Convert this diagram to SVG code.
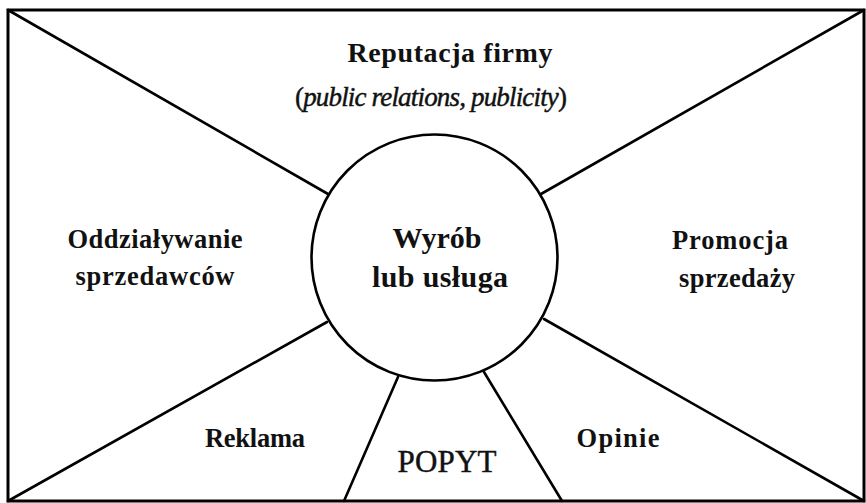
<svg xmlns="http://www.w3.org/2000/svg" width="866" height="503" viewBox="0 0 866 503">
  <style>
    .frame { fill: none; stroke: #000; stroke-width: 3; }
    .ray { fill: none; stroke: #000; stroke-width: 2.6; stroke-linecap: round; }
    .hub { fill: #fff; stroke: #000; stroke-width: 2.6; }
    .lbl { font-family: "Liberation Serif", "Times New Roman", serif; font-weight: bold; fill: #111; text-anchor: middle; }
    .it { font-style: italic; }
    .plain { font-weight: normal; stroke: #111; stroke-width: 0.45; }
  </style>

  <rect x="0" y="0" width="866" height="503" fill="#fff"/>

  <!-- outer frame -->
  <rect class="frame" x="8" y="10" width="856" height="491"/>

  <!-- connectors: corner diagonals and the two lines under the hub -->
  <g id="connectors">
    <line class="ray" x1="8" y1="10" x2="328" y2="194"/>
    <line class="ray" x1="864" y1="10" x2="541" y2="194"/>
    <line class="ray" x1="8" y1="501" x2="327" y2="322"/>
    <line class="ray" x1="864" y1="501" x2="544" y2="319"/>
    <line class="ray" x1="398" y1="377" x2="344" y2="501"/>
    <line class="ray" x1="484" y1="372" x2="562" y2="501"/>
  </g>

  <!-- central node -->
  <g id="hub">
    <circle class="hub" cx="434.5" cy="257.5" r="123"/>
    <text class="lbl" x="437" y="248" font-size="30">Wyrób</text>
    <text class="lbl" x="440" y="287" font-size="30" textLength="136" lengthAdjust="spacing">lub usługa</text>
  </g>

  <g id="reputacja">
    <text class="lbl" x="450" y="62" font-size="28" textLength="205" lengthAdjust="spacing">Reputacja firmy</text>
    <text class="lbl plain" x="431" y="106" font-size="27" textLength="272" lengthAdjust="spacing">(<tspan class="it">public relations, publicity</tspan>)</text>
  </g>

  <g id="sprzedawcy">
    <text class="lbl" x="155" y="248" font-size="26.5" textLength="175" lengthAdjust="spacing">Oddziaływanie</text>
    <text class="lbl" x="155" y="285" font-size="26.5" textLength="159" lengthAdjust="spacing">sprzedawców</text>
  </g>

  <g id="promocja">
    <text class="lbl" x="730" y="249" font-size="26.5" textLength="116" lengthAdjust="spacing">Promocja</text>
    <text class="lbl" x="737" y="287" font-size="26.5" textLength="116" lengthAdjust="spacing">sprzedaży</text>
  </g>

  <g id="reklama">
    <text class="lbl" x="255" y="447" font-size="26.5" textLength="100" lengthAdjust="spacing">Reklama</text>
  </g>

  <g id="opinie">
    <text class="lbl" x="618" y="447" font-size="26.5" textLength="83" lengthAdjust="spacing">Opinie</text>
  </g>

  <g id="popyt">
    <text class="lbl plain" x="447" y="472" font-size="31" textLength="99" lengthAdjust="spacing">POPYT</text>
  </g>
</svg>
